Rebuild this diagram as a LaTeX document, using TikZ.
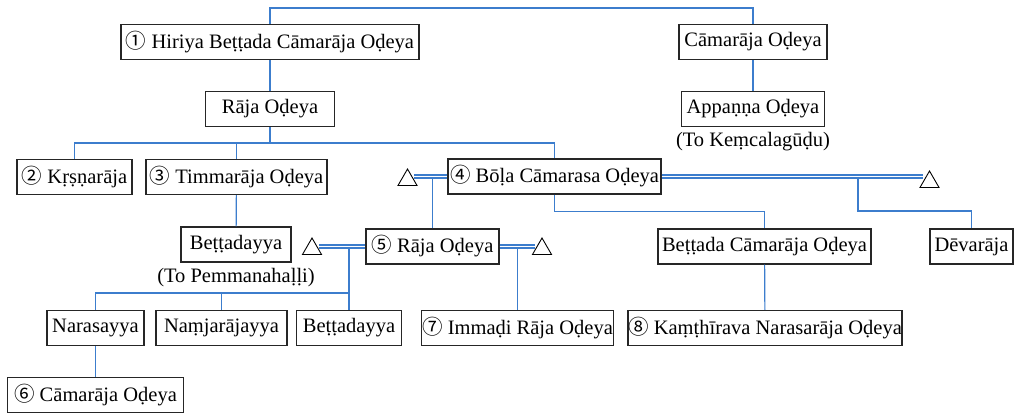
\documentclass[tikz,border=0pt]{standalone}
\usepackage{fontspec}
\setmainfont{Liberation Serif}
\newfontfamily\cjk{Noto Sans CJK JP}
\usetikzlibrary{positioning,shapes.geometric}
\newcommand{\rang}[1]{{\cjk #1}}

\begin{document}
\begin{tikzpicture}[x=1pt,y=-1pt,node distance=67pt,font=\fontsize{20.5}{23}\selectfont]
            \tikzstyle{membre} = [rectangle,
            minimum height=35pt,
            inner sep=0pt,
            text centered,
            draw=black!85,
            line width=1.2pt,
            fill=white]
            \definecolor{monbleu}{RGB}{60,125,205}
            \tikzstyle{lien} = [monbleu, line width=1.2pt]
            \tikzstyle{mariage} = [monbleu, line width=1.2pt, double=white, double distance=1.8pt]
            \tikzstyle{signe} = [regular polygon, regular polygon sides=3, minimum size=22pt, inner sep=0pt, draw=black, line width=0.9pt]
            \useasboundingbox (0,0) rectangle (1014,413);
            \node (membre1)[membre, minimum width=298pt] at (270,42) {\rang{①} Hiriya Beṭṭada Cāmarāja Oḍeya};
            \node (membre2)[membre, minimum width=148pt] at (753,42) {Cāmarāja Oḍeya};
            \node (membre3)[membre, minimum width=129pt, below of=membre1] {Rāja Oḍeya};
            \node (membre4)[membre, minimum width=143pt, below of=membre2] {Appaṇṇa Oḍeya};
            \node (note4)[below=4pt of membre4, inner sep=1pt] {(To Keṃcalagūḍu)};
            \node (membre5)[membre, minimum width=115pt] at (74.5,177) {\rang{②} Kṛṣṇarāja};
            \node (membre6)[membre, minimum width=181pt] at (236.5,177) {\rang{③} Timmarāja Oḍeya};
            \node (membre7)[membre, minimum width=213pt] at (554.5,176.5) {\rang{④} Bōḷa Cāmarasa Oḍeya};
            \node (membre8)[membre, minimum width=110pt] at (236,244.5) {Beṭṭadayya};
            \node (note8)[below=4pt of membre8, inner sep=1pt] {(To Pemmanahaḷḷi)};
            \node (membre9)[membre, minimum width=133pt] at (432.5,246.5) {\rang{⑤} Rāja Oḍeya};
            \node (membre10)[membre, minimum width=213pt] at (764.5,246.5) {Beṭṭada Cāmarāja Oḍeya};
            \node (membre11)[membre, minimum width=83pt] at (971.5,246.5) {Dēvarāja};
            \node (membre12)[membre, minimum width=97pt] at (95.5,328) {Narasayya};
            \node (membre13)[membre, minimum width=131pt] at (221.5,328) {Naṃjarājayya};
            \node (membre14)[membre, minimum width=105pt] at (349,328) {Beṭṭadayya};
            \node (membre15)[membre, minimum width=192pt] at (517.5,328) {\rang{⑦} Immaḍi Rāja Oḍeya};
            \node (membre16)[membre, minimum width=274pt] at (765,328) {\rang{⑧} Kaṃṭhīrava Narasarāja Oḍeya};
            \node (membre17)[membre, minimum width=176pt, below of=membre12] {\rang{⑥} Cāmarāja Oḍeya};
            \node (signe1)[signe] at (407.5,180) {};
            \node (signe2)[signe] at (929.5,182) {};
            \node (signe3)[signe] at (312,249) {};
            \node (signe4)[signe] at (542,249) {};
            \coordinate (rang3) at (270,143);
            \coordinate (noeud4) at (858,176.5);

            \draw [lien] (membre1.north) -- ([yshift=16pt]membre1.north) -| (membre2.north);
            \draw [lien] (membre1) -- (membre3);
            \draw [lien] (membre2) -- (membre4);
            \draw [lien] (membre3) -- (rang3);
            \draw [lien] (membre5.north) -- (membre5.north |- rang3) -- (membre7.north |- rang3) -- (membre7.north);
            \draw [lien] (membre6.north) -- (membre6.north |- rang3);
            \draw [lien] (membre6) -- (membre8);
            \draw [lien] (membre9.north) -- (membre9.north |- membre7.west);
            \draw [mariage] (signe1.east |- membre7.west) -- (membre7.west);
            \draw [lien] (noeud4) -- ++(0,34.5) -| (membre11.north);
            \draw [lien] (membre7.south) -- ++(0,17) -| (membre10.north);
            \draw [mariage] (membre7.east) -- (membre7.east -| signe2.west);
            \draw [lien] (membre14.north) -- (membre14.north |- membre9.west);
            \draw [lien] (membre12.north) -- ++(0,-17) -| (membre14.north);
            \draw [lien] (membre13.north) -- ++(0,-17);
            \draw [mariage] (signe3.east |- membre9.west) -- (membre9.west);
            \draw [lien] (membre15.north) -- (membre15.north |- membre9.east);
            \draw [mariage] (membre9.east) -- (membre9.east -| signe4.west);
            \draw [lien] (membre10) -- (membre16);
            \draw [lien] (membre12) -- (membre17);
        \end{tikzpicture}
\end{document}
